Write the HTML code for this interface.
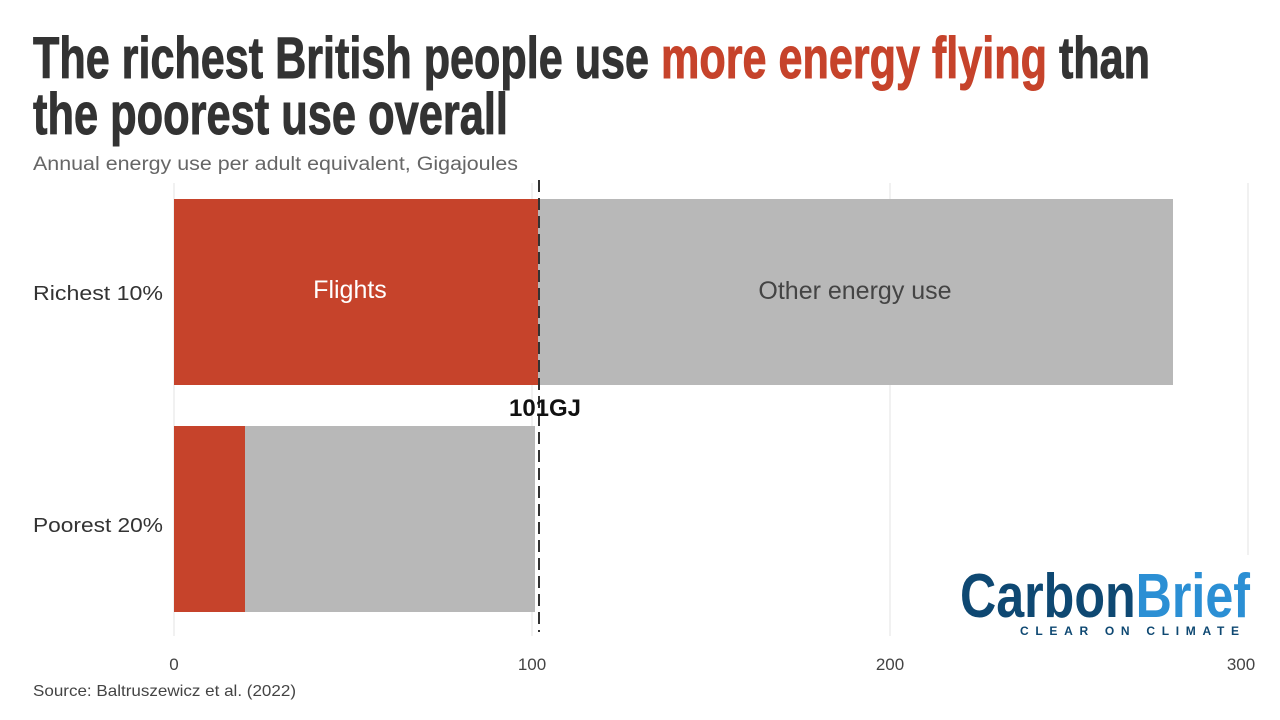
<!DOCTYPE html>
<html><head><meta charset="utf-8"><style>
body{margin:0;background:#fff;}
svg{display:block;font-family:"Liberation Sans",sans-serif;}
</style></head><body>
<svg width="1280" height="720" viewBox="0 0 1280 720">
<rect width="1280" height="720" fill="#fff"/>
<text x="33" y="78" font-size="58" font-weight="bold" fill="#333" stroke="#333" stroke-width="1" textLength="1117" lengthAdjust="spacingAndGlyphs">The richest British people use <tspan fill="#c6432b" stroke="#c6432b">more energy flying</tspan> than</text>
<text x="33" y="134" font-size="58" font-weight="bold" fill="#333" stroke="#333" stroke-width="1" textLength="475" lengthAdjust="spacingAndGlyphs">the poorest use overall</text>
<text x="33" y="170" font-size="19" fill="#666" textLength="485" lengthAdjust="spacingAndGlyphs">Annual energy use per adult equivalent, Gigajoules</text>
<g stroke="#e3e3e3" stroke-width="1">
<line x1="174" y1="183" x2="174" y2="636"/>
<line x1="532" y1="183" x2="532" y2="636"/>
<line x1="890" y1="183" x2="890" y2="636"/>
<line x1="1248" y1="183" x2="1248" y2="636"/>
</g>
<rect x="174" y="199" width="364" height="186" fill="#c6432b"/>
<rect x="538" y="199" width="635" height="186" fill="#b8b8b8"/>
<rect x="174" y="426" width="71" height="186" fill="#c6432b"/>
<rect x="245" y="426" width="290" height="186" fill="#b8b8b8"/>
<line x1="539" y1="180" x2="539" y2="632" stroke="#333" stroke-width="2" stroke-dasharray="12,6"/>
<text x="350" y="298" font-size="25" fill="#fff" text-anchor="middle">Flights</text>
<text x="855" y="299" font-size="25" fill="#444" text-anchor="middle">Other energy use</text>
<text x="545" y="416" font-size="24" font-weight="bold" fill="#111" text-anchor="middle">101GJ</text>
<text x="33" y="300" font-size="20" fill="#333" textLength="130" lengthAdjust="spacingAndGlyphs">Richest 10%</text>
<text x="33" y="532" font-size="20" fill="#333" textLength="130" lengthAdjust="spacingAndGlyphs">Poorest 20%</text>
<g font-size="17" fill="#444" text-anchor="middle">
<text x="174" y="670">0</text><text x="532" y="670">100</text><text x="890" y="670">200</text><text x="1241" y="670">300</text>
</g>
<text x="33" y="696" font-size="16" fill="#444" textLength="263" lengthAdjust="spacingAndGlyphs">Source: Baltruszewicz et al. (2022)</text>
<rect x="955" y="555" width="300" height="85" fill="#fff"/>
<text x="960" y="617" font-size="62" font-weight="bold" textLength="290" lengthAdjust="spacingAndGlyphs"><tspan fill="#0e4872">Carbon</tspan><tspan fill="#2b8fd4">Brief</tspan></text>
<text x="1020" y="635" font-size="12" font-weight="bold" fill="#0e4872" textLength="225" lengthAdjust="spacing" letter-spacing="6">CLEAR ON CLIMATE</text>
</svg>
</body></html>
